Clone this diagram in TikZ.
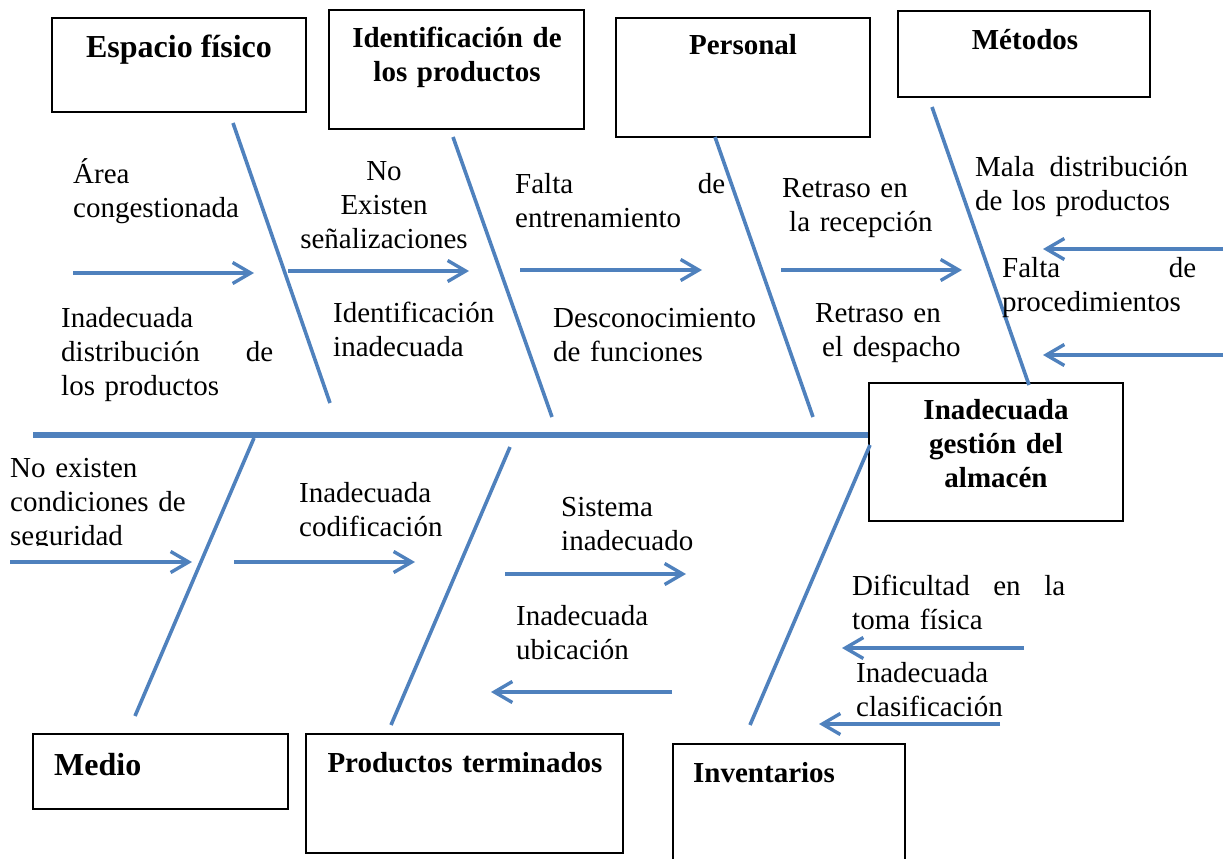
\documentclass[tikz,border=0pt]{standalone}
\usepackage{fontspec}
\setmainfont{Liberation Serif}
\usetikzlibrary{arrows.meta}
\definecolor{fishblue}{RGB}{79,129,189}
\begin{document}
\begin{tikzpicture}[x=1pt,y=-1pt,
  box/.style={draw=black,line width=1.8pt,inner sep=0pt,fill=none},
  lbl/.style={inner sep=0pt,anchor=base west,align=left,text width=#1,font=\fontsize{29}{34}\selectfont},
  lbl/.default=300pt,
  clbl/.style={inner sep=0pt,anchor=base,align=center,text width=260pt,font=\fontsize{29}{34}\selectfont},
  ttl/.style={inner sep=0pt,anchor=base,align=center,text width=300pt,font=\fontsize{29}{34}\selectfont\bfseries},
  bigttl/.style={inner sep=0pt,font=\fontsize{32}{36}\selectfont\bfseries},
  bone/.style={draw=fishblue,line width=3.6pt},
  spine/.style={draw=fishblue,line width=6pt},
  arr/.style={draw=fishblue,line width=3.4pt,-{Straight Barb[length=18pt,width=21pt]}},
]
\useasboundingbox (0,0) rectangle (1229,859);

% ---------- boxes ----------
\node[box,minimum width=254pt,minimum height=94pt]  (bEsp)  at (179,65) {};
\node[box,minimum width=255pt,minimum height=119pt] (bIde)  at (456.5,69.5) {};
\node[box,minimum width=254pt,minimum height=119pt] (bPer)  at (743,77.5) {};
\node[box,minimum width=252pt,minimum height=86pt]  (bMet)  at (1024,54) {};
\node[box,minimum width=254pt,minimum height=138pt] (bMain) at (996,452) {};
\node[box,minimum width=255pt,minimum height=75pt]  (bMed)  at (160.5,771.5) {};
\node[box,minimum width=317pt,minimum height=119pt] (bPro)  at (464.5,793.5) {};
\node[box,minimum width=232pt,minimum height=126pt] (bInv)  at (789,807) {};

% ---------- box titles ----------
\node[bigttl,anchor=base] (tEsp) at (179,58) {Espacio físico};
\node[ttl] (tIde) at (457,48) {Identificación de\\los productos};
\node[ttl] (tPer) at (743,55) {Personal};
\node[ttl] (tMet) at (1025,49) {Métodos};
\node[ttl] (tMain) at (996,419) {Inadecuada\\gestión del\\almacén};
\node[bigttl,anchor=base west] (tMed) at (54,775) {Medio};
\node[ttl] (tPro) at (465,772) {Productos terminados};
\node[ttl,anchor=base west,text width=220pt,align=left] (tInv) at (693,782) {Inventarios};

% ---------- spine ----------
\coordinate (sp0) at (33,435);
\draw[spine] (sp0) -- (sp0 -| bMain.west);

% ---------- ribs ----------
\coordinate (r1a) at (233,123);  \coordinate (r1b) at (330,403);
\coordinate (r2a) at (453,137);  \coordinate (r2b) at (552,417);
\coordinate (r3a) at (715,137);  \coordinate (r3b) at (813,417);
\coordinate (r4a) at (932,107);  \coordinate (r4b) at (1029,385);
\coordinate (r5a) at (254,438);  \coordinate (r5b) at (135,716);
\coordinate (r6a) at (510,447);  \coordinate (r6b) at (391,725);
\coordinate (r7a) at (870,445);  \coordinate (r7b) at (750,725);
\foreach \r in {1,...,7} \draw[bone] (r\r a) -- (r\r b);

% ---------- arrows ----------
\coordinate (a1s) at (73,273);   \coordinate (a1e) at (254,273);
\coordinate (a2s) at (288,271);  \coordinate (a2e) at (469,271);
\coordinate (a3s) at (520,270);  \coordinate (a3e) at (702,270);
\coordinate (a4s) at (781,270);  \coordinate (a4e) at (962,270);
\coordinate (a5s) at (1223,249); \coordinate (a5e) at (1043,249);
\coordinate (a6s) at (1223,355); \coordinate (a6e) at (1043,355);
\coordinate (b1s) at (10,562);   \coordinate (b1e) at (192,562);
\coordinate (b2s) at (234,562);  \coordinate (b2e) at (415,562);
\coordinate (b3s) at (505,574);  \coordinate (b3e) at (686,574);
\coordinate (b4s) at (672,692);  \coordinate (b4e) at (491,692);
\coordinate (b5s) at (1024,648); \coordinate (b5e) at (842,648);
\coordinate (b6s) at (1000,724); \coordinate (b6e) at (819,724);
\foreach \a in {a1,a2,a3,a4,a5,a6,b1,b2,b3,b4,b5,b6} \draw[arr] (\a s) -- (\a e);

% ---------- cause texts ----------
\node[lbl] (c1) at (73,183) {Área\\congestionada};
\node[clbl] (c2) at (384,180) {No\\Existen\\señalizaciones};
\node[lbl=210pt] (c3) at (515,193) {Falta\hfill de\\entrenamiento};
\node[lbl] (c4) at (782,197) {Retraso en\\\hspace*{7pt}la recepción};
\node[lbl=213pt] (c5) at (975,176) {Mala\hfill distribución\\de los productos};
\node[lbl=194pt] (c6) at (1002,277) {Falta\hfill de\\procedimientos};
\node[lbl=212pt] (c7) at (61,327) {Inadecuada\\distribución\hfill de\\los productos};
\node[lbl] (c8) at (333,322) {Identificación\\inadecuada};
\node[lbl] (c9) at (553,327) {Desconocimiento\\de funciones};
\node[lbl] (c10) at (815,322) {Retraso en\\\hspace*{7pt}el despacho};
\begin{scope}
  \clip (0,440) rectangle (300,545);
  \node[lbl] (c11) at (10,477) {No existen\\condiciones de\\seguridad};
\end{scope}
\node[lbl] (c12) at (299,502) {Inadecuada\\codificación};
\node[lbl] (c13) at (561,516) {Sistema\\inadecuado};
\node[lbl] (c14) at (516,625) {Inadecuada\\ubicación};
\node[lbl=213pt] (c15) at (852,595) {Dificultad\hfill en\hfill la\\toma física};
\node[lbl] (c16) at (856,682) {Inadecuada\\clasificación};
\end{tikzpicture}
\end{document}
